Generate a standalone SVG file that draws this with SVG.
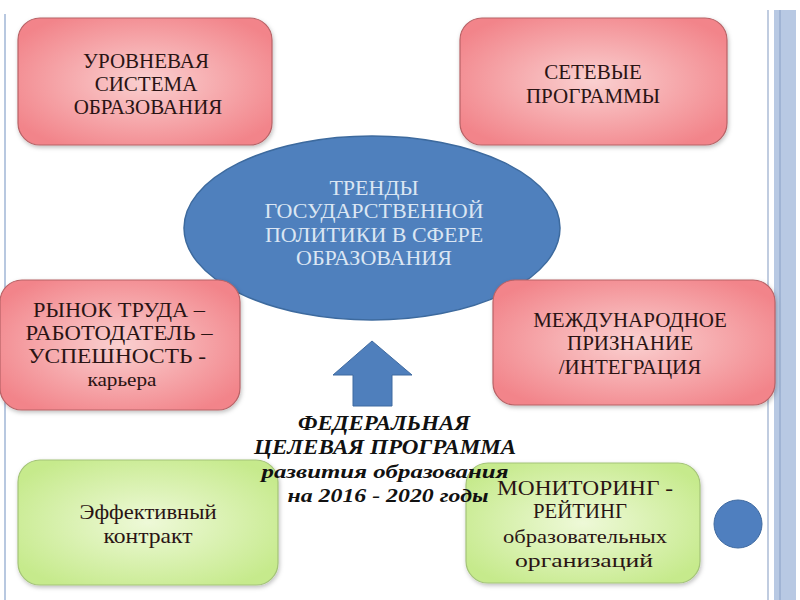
<svg xmlns="http://www.w3.org/2000/svg" width="800" height="600" viewBox="0 0 800 600">
<defs>
<radialGradient id="pink" cx="50%" cy="50%" r="60%">
<stop offset="0" stop-color="#fad0d0"/>
<stop offset="1" stop-color="#f2848a"/>
</radialGradient>
<radialGradient id="green" cx="50%" cy="50%" r="60%">
<stop offset="0" stop-color="#eef9d8"/>
<stop offset="1" stop-color="#c6ea8c"/>
</radialGradient>
<filter id="sh" x="-10%" y="-10%" width="120%" height="130%">
<feDropShadow dx="1" dy="2" stdDeviation="2" flood-color="#000" flood-opacity="0.25"/>
</filter>
</defs>
<style>
.pk{fill:url(#pink);stroke:#b86266;stroke-width:1.2;filter:url(#sh)}
.gr{fill:url(#green);stroke:#a4c478;stroke-width:1.2;filter:url(#sh)}
.t{font-size:21px;fill:#2a1414;text-anchor:middle}
.ts{font-size:19px}
.w{font-size:22px;fill:#dbe6f3;text-anchor:middle}
.b{font-weight:bold;font-style:italic;fill:#111;text-anchor:middle}
</style>
<rect width="800" height="600" fill="#ffffff"/>
<g id="frame">
<line x1="5" y1="14" x2="5" y2="600" stroke="#b8c8e0" stroke-width="2"/>
<line x1="768" y1="10" x2="768" y2="600" stroke="#c0cce0" stroke-width="2"/>
<rect x="774" y="10" width="22" height="590" fill="#b8c9e3"/>
<line x1="780" y1="10" x2="780" y2="600" stroke="#a0b4d4" stroke-width="2"/>
</g>
<g id="connectors">
<path d="M372,341 L412,375 L392,375 L392,406 L353,406 L353,375 L333,375 Z" fill="#4f7fbc" stroke="#3f6aa0" stroke-width="1"/>
</g>
<g font-family="Liberation Serif, serif">
<g id="n1">
<rect class="pk" x="18" y="18" width="254" height="127" rx="22"/>
<text class="t" x="146" y="68">УРОВНЕВАЯ</text>
<text class="t" x="146" y="91">СИСТЕМА</text>
<text class="t" x="148" y="114">ОБРАЗОВАНИЯ</text>
</g>
<g id="n2">
<rect class="pk" x="460" y="18" width="267" height="127" rx="22"/>
<text class="t" x="593" y="79">СЕТЕВЫЕ</text>
<text class="t" x="593" y="103">ПРОГРАММЫ</text>
</g>
<g id="center">
<ellipse cx="372" cy="228" rx="188" ry="92" fill="#4f80bd" stroke="#3d6a9e" stroke-width="1.5"/>
<text class="w" x="374" y="195">ТРЕНДЫ</text>
<text class="w" x="374" y="218">ГОСУДАРСТВЕННОЙ</text>
<text class="w" x="374" y="242">ПОЛИТИКИ В СФЕРЕ</text>
<text class="w" x="374" y="265">ОБРАЗОВАНИЯ</text>
</g>
<g id="n3">
<rect class="pk" x="0" y="280" width="240" height="130" rx="22"/>
<text class="t" x="119" y="317" font-size="20" textLength="172" lengthAdjust="spacingAndGlyphs">РЫНОК ТРУДА –</text>
<text class="t" x="119" y="340" font-size="20" textLength="187" lengthAdjust="spacingAndGlyphs">РАБОТОДАТЕЛЬ –</text>
<text class="t" x="117" y="363" font-size="20" textLength="178" lengthAdjust="spacingAndGlyphs">УСПЕШНОСТЬ  -</text>
<text class="t ts" x="122" y="386" font-size="18" textLength="69" lengthAdjust="spacingAndGlyphs">карьера</text>
</g>
<g id="n4">
<rect class="pk" x="493" y="280" width="282" height="125" rx="22"/>
<text class="t" x="630" y="327">МЕЖДУНАРОДНОЕ</text>
<text class="t" x="630" y="350">ПРИЗНАНИЕ</text>
<text class="t" x="630" y="374">/ИНТЕГРАЦИЯ</text>
</g>
<g id="n5">
<rect class="gr" x="18" y="460" width="260" height="125" rx="22"/>
<text class="t" x="148" y="519" font-size="20" textLength="137" lengthAdjust="spacingAndGlyphs">Эффективный</text>
<text class="t" x="148" y="543" font-size="20" textLength="89" lengthAdjust="spacingAndGlyphs">контракт</text>
</g>
<g id="n6">
<rect class="gr" x="466" y="463" width="234" height="120" rx="22"/>
<text class="t" x="585" y="495" font-size="20" textLength="176" lengthAdjust="spacingAndGlyphs">МОНИТОРИНГ  -</text>
<text class="t" x="580" y="518" font-size="20" textLength="94" lengthAdjust="spacingAndGlyphs">РЕЙТИНГ</text>
<text class="t ts" x="585" y="543" font-size="18" textLength="164" lengthAdjust="spacingAndGlyphs">образовательных</text>
<text class="t ts" x="584" y="567" font-size="18" textLength="138" lengthAdjust="spacingAndGlyphs">организаций</text>
</g>
<g id="label">
<text class="b" x="384" y="430" font-size="21" textLength="172" lengthAdjust="spacingAndGlyphs">ФЕДЕРАЛЬНАЯ</text>
<text class="b" x="385" y="454" font-size="21" textLength="262" lengthAdjust="spacingAndGlyphs">ЦЕЛЕВАЯ ПРОГРАММА</text>
<text class="b" x="385" y="478" font-size="19" textLength="247" lengthAdjust="spacingAndGlyphs">развития образования</text>
<text class="b" x="388" y="502" font-size="19" textLength="201" lengthAdjust="spacingAndGlyphs">на 2016 - 2020 годы</text>
</g>
</g>
<g id="dot">
<circle cx="738" cy="524" r="24" fill="#4f7fbf" stroke="#3f6aa0" stroke-width="1"/>
</g>
</svg>
